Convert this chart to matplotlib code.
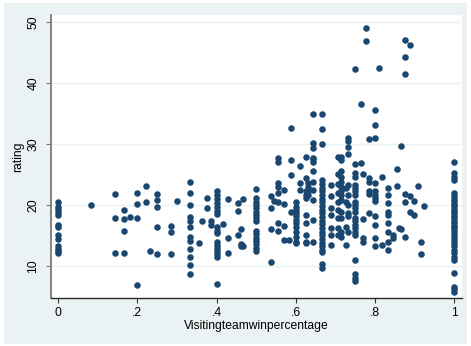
import numpy as np
import matplotlib
matplotlib.use("Agg")
import matplotlib.pyplot as plt
from matplotlib.patches import Rectangle

plt.rcParams['font.family'] = ['Liberation Sans', 'DejaVu Sans']

# visiting team win percentage (x) and game rating (y), one line per x value
win_pct = (
    [0.0]*13 + [0.083] + [0.143]*3 + [0.167]*4 + [0.182] + [0.2]*4 + [0.222]*2 + [0.231]
    + [0.25]*5 + [0.286]*3 + [0.3] + [0.333]*12 + [0.357] + [0.364] + [0.375]*2 + [0.385]*2
    + [0.4]*17 + [0.417] + [0.429]*3 + [0.455]*3 + [0.462]*3 + [0.467]*2 + [0.5]*16
    + [0.538]*4 + [0.545] + [0.556]*8 + [0.571]*4 + [0.583] + [0.588]*4 + [0.6]*12
    + [0.611]*3 + [0.625]*10 + [0.632]*4 + [0.643]*12 + [0.667]*26 + [0.69]*7
    + [0.706]*9 + [0.714]*13 + [0.727]*4 + [0.733]*10 + [0.75]*22 + [0.765]*2
    + [0.769]*4 + [0.778]*2 + [0.786]*6 + [0.8]*12 + [0.811] + [0.818]*2 + [0.833]*9
    + [0.846]*2 + [0.857]*2 + [0.862] + [0.867]*2 + [0.875]*6 + [0.889]*3 + [0.9]*2
    + [0.909] + [0.917]*2 + [0.923] + [1.0]*33
)

rating = [
    20.4, 19.7, 19.3, 18.9, 18.3, 16.7, 16.3, 15.1, 14.4, 13.2, 12.8, 12.5, 12.2,
    20.0,
    21.8, 17.8, 12.2,
    19.2, 17.7, 15.7, 12.1,
    18.0,
    21.9, 20.2, 17.8, 6.8,
    23.1, 20.5,
    12.5,
    21.8, 20.8, 19.6, 16.4, 12.0,
    16.6, 15.6, 11.9,
    20.7,
    23.7, 22.0, 19.9, 18.0, 17.4, 16.3, 14.8, 14.1, 12.7, 11.5, 10.1, 8.7,
    13.8,
    17.4,
    21.2, 19.5,
    17.3, 16.7,
    22.2, 21.6, 20.9, 20.3, 19.6, 19.0, 18.5, 16.3, 15.8, 15.4, 14.0, 13.4, 13.0, 12.5, 11.9, 11.4, 7.0,
    16.8,
    20.9, 14.6, 12.2,
    20.3, 19.0, 15.0,
    16.0, 13.6, 13.2,
    21.0, 13.2,
    22.6, 21.1, 20.5, 20.0, 19.5, 18.9, 18.4, 17.8, 17.3, 15.7, 15.2, 14.6, 14.1, 13.6, 13.0, 12.5,
    21.4, 19.5, 16.1, 10.6,
    20.7,
    27.7, 27.1, 23.6, 23.0, 21.9, 20.5, 17.0, 15.7,
    22.5, 20.1, 16.6, 14.3,
    14.2,
    32.6, 27.3, 24.9, 18.9,
    20.5, 19.7, 19.2, 18.6, 18.1, 17.5, 17.0, 16.4, 15.6, 14.8, 14.0, 13.8,
    26.3, 23.6, 22.5,
    27.9, 24.4, 22.2, 21.6, 21.1, 18.4, 17.0, 15.1, 14.0, 13.8,
    23.6, 23.0, 22.2, 21.6,
    34.9, 30.1, 29.3, 27.7, 27.5, 27.1, 25.5, 23.8, 22.5, 20.8, 17.5, 14.0,
    34.9, 32.5, 29.9, 24.1, 23.4, 22.8, 22.2, 21.6, 21.0, 20.4, 19.8, 19.2, 18.6,
    18.0, 17.4, 16.8, 16.2, 15.6, 15.0, 14.4, 13.8, 13.2, 12.6, 12.3, 10.4, 9.6,
    23.3, 21.4, 19.5, 18.4, 16.2, 15.1, 13.4,
    27.9, 25.0, 23.5, 22.0, 20.5, 19.2, 17.8, 16.2, 15.1,
    27.9, 27.4, 25.5, 24.6, 23.8, 23.0, 22.2, 21.6, 20.8, 18.9, 17.8, 15.6, 14.8,
    22.7, 20.5, 16.4, 13.4,
    30.9, 30.4, 29.5, 28.3, 23.3, 21.6, 20.0, 18.6, 18.1, 15.6,
    42.2, 26.7, 25.2, 24.6, 23.3, 22.7, 22.2, 21.6, 20.5, 20.0, 19.5, 18.9, 17.8,
    17.3, 16.7, 16.2, 15.6, 15.1, 11.0, 8.7, 8.1, 7.6,
    36.5, 26.9,
    25.0, 17.7, 14.5, 14.0,
    48.9, 46.9,
    30.8, 24.4, 23.8, 22.2, 21.8, 18.6,
    35.5, 33.1, 30.9, 23.6, 22.2, 21.6, 21.1, 20.7, 18.1, 16.7, 14.5, 13.3,
    42.5,
    24.5, 13.4,
    22.7, 21.6, 20.3, 18.9, 18.4, 17.0, 15.6, 14.0, 12.6,
    15.1, 14.5,
    25.9, 23.1,
    16.2,
    29.7, 16.1,
    47.0, 44.2, 41.5, 21.8, 20.4, 14.8,
    46.2, 21.5, 18.9,
    20.7, 18.4,
    23.1,
    14.0, 11.9,
    19.8,
    27.0, 25.2, 24.6, 24.1, 21.9, 21.4, 21.0, 20.6, 20.2, 19.8, 19.4, 19.0, 18.6,
    18.2, 17.8, 17.4, 17.0, 16.6, 16.2, 15.8, 15.3, 14.8, 14.3, 13.7, 13.2, 12.6,
    12.1, 11.5, 11.0, 8.9, 6.6, 6.2, 5.8,
]

x_ticks = [0, 0.2, 0.4, 0.6, 0.8, 1.0]
x_ticklabels = ["0", ".2", ".4", ".6", ".8", "1"]
y_ticks = [10, 20, 30, 40, 50]

W, H = 471, 346
fig = plt.figure(figsize=(W/100, H/100), dpi=100, facecolor="white")

# light blue graph region with a thin white border
fig.patches.append(Rectangle((4/W, 2/H), 463/W, 341/H, transform=fig.transFigure,
                             facecolor="#EAF2F3", edgecolor="none", zorder=-5))

ax = fig.add_axes([51/W, (H-298)/H, (462-51)/W, (298-15)/H])
ax.set_facecolor("white")

ax.scatter(win_pct, rating, s=22, c="#1A476F", linewidths=0, zorder=3)

ax.set_xlim(-0.018, 1.02)
ax.set_ylim(4.75, 51.1)

ax.set_xticks(x_ticks)
ax.set_xticklabels(x_ticklabels)
ax.set_yticks(y_ticks)
ax.set_yticklabels([str(v) for v in y_ticks], rotation=90, va="center")

for v in y_ticks:
    ax.axhline(v, color="#EAF2F3", lw=1.0, zorder=1)

for side in ["top", "right"]:
    ax.spines[side].set_visible(False)
ax.spines["left"].set_color("#7a7a7a")
ax.spines["left"].set_linewidth(1.3)
ax.spines["bottom"].set_color("#2a2a2a")
ax.spines["bottom"].set_linewidth(1.0)

ax.tick_params(axis="x", length=3.5, width=0.8, color="#333333", pad=3, labelsize=8.7)
ax.tick_params(axis="y", length=3.5, width=0.8, color="#777777", pad=5, labelsize=8.7)

ax.set_xlabel("Visitingteamwinpercentage", fontsize=8.7, labelpad=1)
ax.set_ylabel("rating", fontsize=8.7, labelpad=2)

fig.savefig("out.png", dpi=100, facecolor="white")
